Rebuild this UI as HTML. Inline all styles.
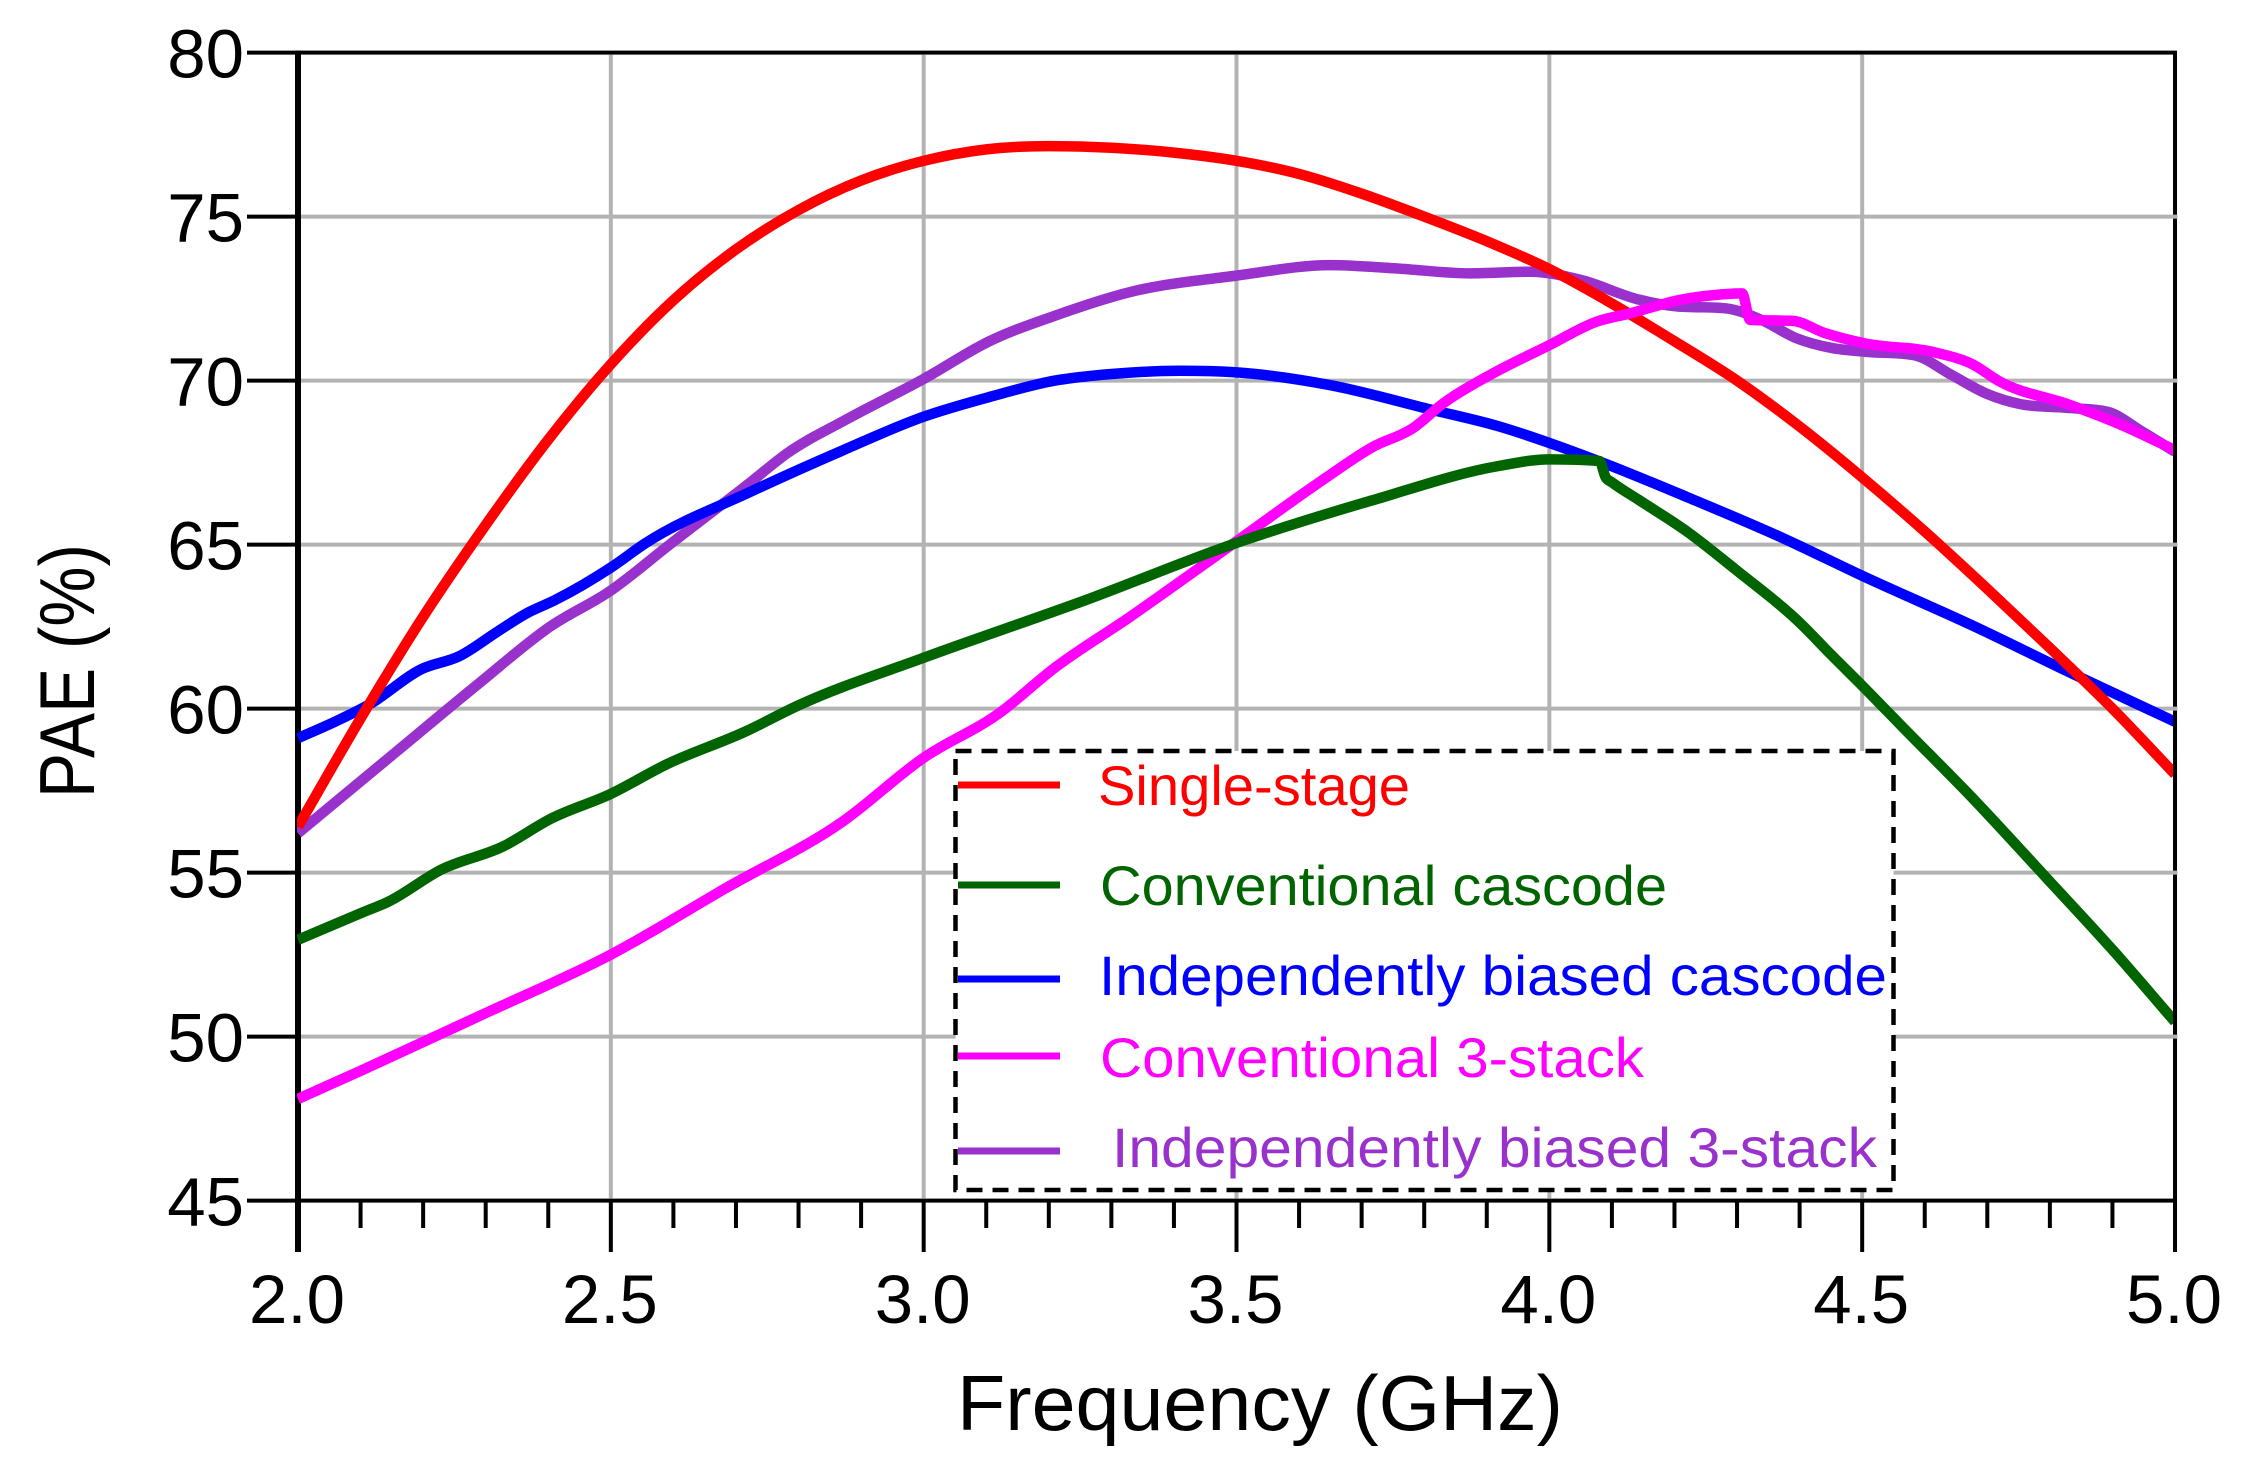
<!DOCTYPE html>
<html lang="en">
<head>
<meta charset="utf-8">
<title>PAE vs Frequency</title>
<style>
html,body{margin:0;padding:0;background:#fff;}
svg{display:block;}
text{font-family:"Liberation Sans",Arial,sans-serif;}
</style>
</head>
<body>
<svg id="chart" xmlns="http://www.w3.org/2000/svg" width="2246" height="1481" viewBox="0 0 2246 1481">
  <rect x="0" y="0" width="2246" height="1481" fill="#ffffff"/>
  <defs><clipPath id="plot-clip"><rect x="297" y="52" width="1876" height="1150"/></clipPath></defs>
  <g id="frame"></g>
  <g id="grid"></g>
  <g id="series" clip-path="url(#plot-clip)"></g>
  <g id="legend">
    <rect x="955.5" y="751" width="938" height="439" fill="#ffffff" stroke="#000000" stroke-width="4.5" stroke-dasharray="16 10"/>
    <line x1="958" x2="1060" y1="785" y2="785" stroke="#ff0000" stroke-width="7"/>
    <text x="1098" y="805" font-size="56" fill="#ff0000" textLength="312" lengthAdjust="spacingAndGlyphs">Single-stage</text>
    <line x1="958" x2="1060" y1="885" y2="885" stroke="#006400" stroke-width="7"/>
    <text x="1100" y="905" font-size="56" fill="#006400" textLength="567" lengthAdjust="spacingAndGlyphs">Conventional cascode</text>
    <line x1="958" x2="1060" y1="979" y2="979" stroke="#0000ff" stroke-width="7"/>
    <text x="1099" y="995" font-size="56" fill="#0000ff" textLength="788" lengthAdjust="spacingAndGlyphs">Independently biased cascode</text>
    <line x1="958" x2="1060" y1="1056" y2="1056" stroke="#ff00ff" stroke-width="7"/>
    <text x="1100" y="1077" font-size="56" fill="#ff00ff" textLength="544" lengthAdjust="spacingAndGlyphs">Conventional 3-stack</text>
    <line x1="958" x2="1060" y1="1151" y2="1151" stroke="#9932cc" stroke-width="7"/>
    <text x="1112" y="1167" font-size="56" fill="#9932cc" textLength="765" lengthAdjust="spacingAndGlyphs">Independently biased 3-stack</text>
  </g>
  <g id="axes"></g>
  <text x="957" y="1430" font-size="78" fill="#000000" textLength="606" lengthAdjust="spacingAndGlyphs">Frequency (GHz)</text>
  <text transform="translate(94 798) rotate(-90)" x="0" y="0" font-size="78" fill="#000000" textLength="254" lengthAdjust="spacingAndGlyphs">PAE (%)</text>
</svg>
<script>
var yTickLabels = [45, 50, 55, 60, 65, 70, 75, 80];
var xMajorLabels = ["2.0", "2.5", "3.0", "3.5", "4.0", "4.5", "5.0"];
var xMinorTicks = [2.1, 2.2, 2.3, 2.4, 2.6, 2.7, 2.8, 2.9, 3.1, 3.2, 3.3, 3.4, 3.6, 3.7, 3.8, 3.9, 4.1, 4.2, 4.3, 4.4, 4.6, 4.7, 4.8, 4.9];

var singleFreq = [2.0, 2.1, 2.2, 2.3, 2.4, 2.5, 2.6, 2.7, 2.8, 2.9, 3.0, 3.1, 3.2, 3.3, 3.4, 3.5, 3.6, 3.7, 3.8, 3.9, 4.0, 4.1, 4.2, 4.3, 4.4, 4.5, 4.6, 4.7, 4.8, 4.9, 5.0];
var singleValues = [56.4, 59.7, 62.8, 65.6, 68.2, 70.5, 72.45, 74.0, 75.2, 76.1, 76.7, 77.05, 77.15, 77.1, 76.95, 76.7, 76.3, 75.7, 75.0, 74.25, 73.4, 72.35, 71.2, 70.0, 68.6, 67.05, 65.4, 63.65, 61.85, 60.0, 58.0];

var cascodeFreq = [2.0, 2.105, 2.143, 2.23, 2.328, 2.405, 2.5, 2.589, 2.715, 2.8, 3.0, 3.258, 3.5, 3.717, 3.92, 4.0, 4.08, 4.09, 4.1, 4.144, 4.22, 4.297, 4.404, 4.45, 4.5, 4.564, 4.68, 4.794, 4.9, 5.0];
var cascodeValues = [52.95, 53.8, 54.1, 55.1, 55.8, 56.65, 57.4, 58.3, 59.3, 60.1, 61.55, 63.3, 65.05, 66.35, 67.4, 67.6, 67.55, 67.05, 66.9, 66.35, 65.4, 64.25, 62.55, 61.65, 60.7, 59.45, 57.2, 54.85, 52.65, 50.45];

var biasedCascodeFreq = [2.0, 2.059, 2.116, 2.197, 2.258, 2.319, 2.365, 2.41, 2.5, 2.556, 2.722, 2.868, 3.0, 3.105, 3.21, 3.3, 3.41, 3.5, 3.65, 3.81, 3.92, 4.0, 4.085, 4.22, 4.373, 4.5, 4.68, 4.832, 5.0];
var biasedCascodeValues = [59.1, 59.6, 60.15, 61.2, 61.6, 62.35, 62.9, 63.3, 64.3, 65.05, 66.6, 67.85, 68.9, 69.5, 70.0, 70.2, 70.3, 70.25, 69.86, 69.12, 68.6, 68.1, 67.5, 66.45, 65.2, 64.05, 62.5, 61.1, 59.6];

var stackFreq = [2.0, 2.105, 2.298, 2.5, 2.686, 2.87, 3.0, 3.12, 3.21, 3.33, 3.5, 3.64, 3.718, 3.782, 3.83, 3.905, 4.0, 4.076, 4.129, 4.209, 4.255, 4.308, 4.321, 4.389, 4.439, 4.503, 4.616, 4.676, 4.72, 4.832, 4.92, 5.0];
var stackValues = [48.1, 49.0, 50.7, 52.5, 54.55, 56.55, 58.5, 59.85, 61.25, 62.8, 65.1, 67.0, 67.98, 68.55, 69.3, 70.17, 71.08, 71.8, 72.05, 72.46, 72.59, 72.66, 71.85, 71.82, 71.46, 71.14, 70.86, 70.5, 69.97, 69.26, 68.6, 67.88];

var biasedStackFreq = [2.0, 2.158, 2.288, 2.403, 2.5, 2.594, 2.72, 2.783, 2.875, 3.0, 3.105, 3.21, 3.33, 3.5, 3.65, 3.755, 3.873, 3.97, 4.05, 4.145, 4.2, 4.283, 4.339, 4.394, 4.45, 4.505, 4.582, 4.643, 4.699, 4.754, 4.826, 4.892, 4.948, 5.0];
var biasedStackValues = [56.2, 58.7, 60.75, 62.5, 63.6, 65.0, 66.85, 67.8, 68.8, 70.05, 71.2, 71.98, 72.7, 73.2, 73.52, 73.42, 73.27, 73.32, 73.07, 72.46, 72.27, 72.2, 71.85, 71.3, 71.0, 70.88, 70.78, 70.17, 69.6, 69.28, 69.17, 69.05, 68.44, 67.83];

var SVG_NS = "http://www.w3.org/2000/svg";
function xScale(f) { return 298 + (f - 2) * 625.67; }
function yScale(v) { return 52.6 + (80 - v) * 32.8; }
function create(parent, tag, attrs, text) {
  var el = document.createElementNS(SVG_NS, tag);
  for (var k in attrs) { el.setAttribute(k, attrs[k]); }
  if (text !== undefined) { el.textContent = text; }
  parent.appendChild(el);
  return el;
}
function smoothPath(xs, ys) {
  var n = xs.length, d = [], m = [], i;
  for (i = 0; i < n - 1; i++) { d.push((ys[i + 1] - ys[i]) / (xs[i + 1] - xs[i])); }
  m.push(d[0]);
  for (i = 1; i < n - 1; i++) {
    if (d[i - 1] * d[i] <= 0) { m.push(0); }
    else {
      var h0 = xs[i] - xs[i - 1], h1 = xs[i + 1] - xs[i];
      var t = (d[i - 1] * h1 + d[i] * h0) / (h0 + h1);
      var lim = 2.5 * Math.min(Math.abs(d[i - 1]), Math.abs(d[i]));
      if (Math.abs(t) > lim) { t = (t > 0 ? 1 : -1) * lim; }
      m.push(t);
    }
  }
  m.push(d[n - 2]);
  var p = "M" + xs[0].toFixed(2) + " " + ys[0].toFixed(2);
  for (i = 0; i < n - 1; i++) {
    var h = (xs[i + 1] - xs[i]) / 3;
    p += "C" + (xs[i] + h).toFixed(2) + " " + (ys[i] + m[i] * h).toFixed(2) + " " +
      (xs[i + 1] - h).toFixed(2) + " " + (ys[i + 1] - m[i + 1] * h).toFixed(2) + " " +
      xs[i + 1].toFixed(2) + " " + ys[i + 1].toFixed(2);
  }
  return p;
}
function drawSeries(freqs, values, color, width) {
  var xs = freqs.map(xScale), ys = values.map(yScale);
  return create(document.getElementById("series"), "path", {
    d: smoothPath(xs, ys), fill: "none", stroke: color,
    "stroke-width": width, "stroke-linejoin": "round"
  });
}

var gridG = document.getElementById("grid");
var axesG = document.getElementById("axes");
var frameG = document.getElementById("frame");
var AX_LEFT = xScale(2), AX_RIGHT = xScale(5), AX_TOP = yScale(80), AX_BOTTOM = yScale(45);

var frame = create(frameG, "rect", { x: AX_LEFT, y: AX_TOP, width: AX_RIGHT - AX_LEFT, height: AX_BOTTOM - AX_TOP, fill: "none", stroke: "#000000", "stroke-width": 4 });


var leftAxis = create(frameG, "line", { x1: AX_LEFT, x2: AX_LEFT, y1: AX_TOP - 2, y2: 1252, stroke: "#000000", "stroke-width": 6 });



yTickLabels.forEach(function (v) {
  var y = yScale(v);
  if (v !== 45 && v !== 80) {
    var g = create(gridG, "line", { x1: AX_LEFT + 3, x2: AX_RIGHT + 2.5, y1: y, y2: y, stroke: "#b3b3b3", "stroke-width": 4 });
    
    
  }
  var t = create(axesG, "line", { x1: 247, x2: AX_LEFT, y1: y, y2: y, stroke: "#000000", "stroke-width": 4 });
  
  
  var l = create(axesG, "text", { x: 244, y: y + 25, "font-size": 69, "text-anchor": "end", fill: "#000000" }, String(v));
  
  
});

xMajorLabels.forEach(function (s) {
  var f = parseFloat(s), x = xScale(f);
  if (f !== 2 && f !== 5) {
    var g = create(gridG, "line", { x1: x, x2: x, y1: AX_TOP + 2, y2: AX_BOTTOM - 2, stroke: "#b3b3b3", "stroke-width": 4 });
    
    
  }
  if (f !== 2) {
    var t = create(axesG, "line", { x1: x, x2: x, y1: AX_BOTTOM, y2: 1252, stroke: "#000000", "stroke-width": 4 });
    
    
  }
  var l = create(axesG, "text", { x: x - 1, y: 1323, "font-size": 69, "text-anchor": "middle", fill: "#000000" }, s);
  
  
});

xMinorTicks.forEach(function (f) {
  var x = xScale(f);
  var t = create(axesG, "line", { x1: x, x2: x, y1: AX_BOTTOM, y2: 1228, stroke: "#000000", "stroke-width": 4 });
  
  
});

var purpleLine = drawSeries(biasedStackFreq, biasedStackValues, "#9932cc", 10.5);


var blueLine = drawSeries(biasedCascodeFreq, biasedCascodeValues, "#0000ff", 10.5);


var redLine = drawSeries(singleFreq, singleValues, "#ff0000", 10.5);


var magentaLine = drawSeries(stackFreq, stackValues, "#ff00ff", 10.5);


var greenLine = drawSeries(cascodeFreq, cascodeValues, "#006400", 10.5);


</script>
</body>
</html>
